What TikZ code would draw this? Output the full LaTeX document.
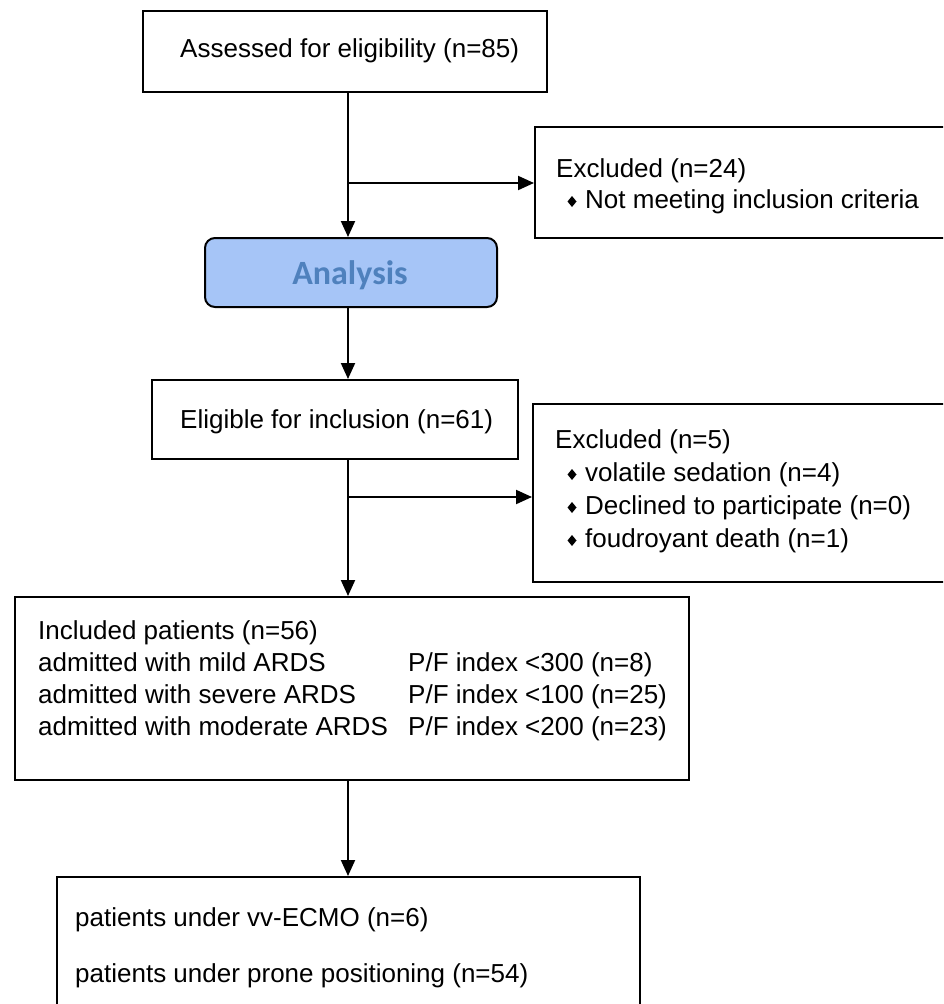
\documentclass[tikz,border=0pt]{standalone}
\usepackage{fontspec}
\setmainfont{Liberation Sans}
\newfontfamily\carlito{Carlito}
\usetikzlibrary{fit,arrows.meta}
\definecolor{anfill}{RGB}{166,197,247}
\definecolor{antext}{RGB}{79,129,189}
\begin{document}
\begin{tikzpicture}[x=1pt,y=-1pt,
  boxstyle/.style={draw, line width=2pt, inner sep=0pt},
  txt/.style={font=\fontsize{26}{30}\selectfont, inner sep=0pt, anchor=base west},
  arr/.style={line width=2pt, -{Triangle[length=16pt,width=14pt]}},
  bullet/.style={fill=black}]
\useasboundingbox (0,0) rectangle (943,1004);
\clip (0,0) rectangle (943,1004);
\fill[white] (0,0) rectangle (943,1004);

% boxes
\node[boxstyle, fit={(143,11) (547,92)}] (b1) {};
\node[boxstyle, fit={(535,127) (965,238)}] (ex1) {};
\node[boxstyle, fit={(205,238) (497,307)}, fill=anfill, rounded corners=10pt] (an) {};
\node[boxstyle, fit={(152,380) (518,459)}] (el) {};
\node[boxstyle, fit={(533,404) (965,582)}] (ex2) {};
\node[boxstyle, fit={(15,597) (689,780)}] (inc) {};
\node[boxstyle, fit={(57,877) (640,1040)}] (bot) {};

% texts
\node[txt] (t1) at (180,57) {Assessed for eligibility (n=85)};
\node[txt] (t2) at (556,177) {Excluded (n=24)};
\node[txt] (t3) at (585,208) {Not meeting inclusion criteria};
\node[font=\carlito\bfseries\fontsize{34}{36}\selectfont, text=antext, inner sep=0pt, anchor=base] (t4) at (350,284) {Analysis};
\node[txt] (t5) at (180,428) {Eligible for inclusion (n=61)};
\node[txt] (t6) at (555,448) {Excluded (n=5)};
\node[txt] (t7) at (585,481) {volatile sedation (n=4)};
\node[txt] (t8) at (585,514) {Declined to participate (n=0)};
\node[txt] (t9) at (585,547) {foudroyant death (n=1)};
\node[txt] (t10) at (38,639) {Included patients (n=56)};
\node[txt] (t11) at (38,671) {admitted with mild ARDS};
\node[txt] (t12) at (38,703) {admitted with severe ARDS};
\node[txt] (t13) at (38,735) {admitted with moderate ARDS};
\node[txt] (t14) at (408,671) {P/F index <300 (n=8)};
\node[txt] (t15) at (408,703) {P/F index <100 (n=25)};
\node[txt] (t16) at (408,735) {P/F index <200 (n=23)};
\node[txt] (t17) at (75,926) {patients under vv-ECMO (n=6)};
\node[txt] (t18) at (75,982) {patients under prone positioning (n=54)};

% bullets
\foreach \yy in {208,481,514,547}{
  \fill[bullet] (572,\yy-12) -- (576.5,\yy-6.5) -- (572,\yy-1) -- (567.5,\yy-6.5) -- cycle;
}

% connectors
\coordinate (trunk) at (348,0);
\coordinate (j1) at (348,183);
\coordinate (j2) at (348,497);
\draw[arr] (b1.south -| trunk) -- (an.north -| trunk);
\draw[arr] (j1) -- (ex1.west |- j1);
\draw[arr] (an.south -| trunk) -- (el.north -| trunk);
\draw[arr] (el.south -| trunk) -- (inc.north -| trunk);
\draw[arr] (j2) -- (ex2.west |- j2);
\draw[arr] (inc.south -| trunk) -- (bot.north -| trunk);
\end{tikzpicture}
\end{document}
